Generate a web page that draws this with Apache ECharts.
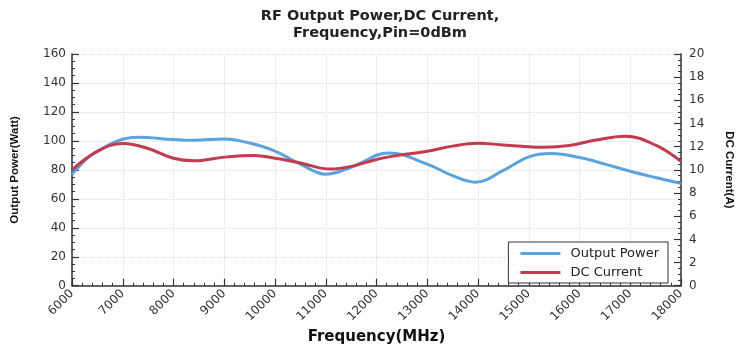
<!DOCTYPE html>
<html>
<head>
<meta charset="utf-8">
<script src="https://cdn.jsdelivr.net/npm/echarts@6/dist/echarts.min.js"></script>
<style>html,body{margin:0;padding:0;background:#fff;}#c{width:750px;height:350px;}</style>
</head>
<body>
<div id="c"></div>
<script>
const powerFreq = [6000,6500,7300,8000,8400,9000,9500,10000,10500,11000,11500,12250,13000,13500,13950,14500,15000,15450,16000,16500,17000,17500,18000];
const outputPower = [77,93,102.5,101,100.5,101.3,98.5,93,84,77,81.8,91.6,84,76,71.5,79.6,89,91.3,88.5,84,79,74.7,70.7];
const currentFreq = [6000,6500,7000,7500,8000,8400,9000,9600,10000,10500,11100,11500,12000,12500,13000,13500,14000,14500,15300,15800,16300,16900,17500,18000];
const dcCurrent = [10.0,11.6,12.27,11.85,11.0,10.78,11.1,11.25,11.0,10.6,10.07,10.3,10.9,11.3,11.6,12.05,12.3,12.15,11.95,12.1,12.55,12.9,12.13,10.73];
const titleLines = ['RF Output Power,DC Current,','Frequency,Pin=0dBm'];

const chart = echarts.init(document.getElementById('c'), null, {renderer:'canvas'});
const axisCol = '#333';
const tickLbl = {color:'#333', fontFamily:'DejaVu Sans', fontSize:12};
chart.setOption({
  animation:false,
  backgroundColor:'#fff',
  title:{text:titleLines.join('\n'), left:375, top:3, textAlign:'center',
    textStyle:{fontFamily:'DejaVu Sans', fontWeight:'bold', fontSize:14.5, color:'#222', lineHeight:17}},
  grid:{left:72, right:69, top:54, bottom:58},
  legend:{orient:'vertical', right:82, bottom:67, itemWidth:40, itemHeight:3, itemGap:6,
    padding:[5,9,4,12], borderColor:'#333', borderWidth:1, backgroundColor:'#fff',
    icon:'rect',
    textStyle:{fontFamily:'DejaVu Sans', fontSize:13, color:'#222', padding:[0,0,0,5]},
    data:['Output Power','DC Current']},
  xAxis:{type:'value', min:6000, max:18000, interval:1000,
    name:'Frequency(MHz)', nameLocation:'middle', nameGap:39,
    nameTextStyle:{fontFamily:'DejaVu Sans', fontWeight:'bold', fontSize:15, color:'#111'},
    axisLine:{lineStyle:{color:axisCol, width:1.5}},
    axisTick:{inside:true, length:7, lineStyle:{color:axisCol, width:1.2}},
    minorTick:{show:true, splitNumber:5, length:3, lineStyle:{color:axisCol}},
    axisLabel:Object.assign({rotate:45, margin:6, formatter:v=>String(v)}, tickLbl),
    splitLine:{show:true, lineStyle:{color:'#ddd', type:'dotted'}}},
  yAxis:[
    {type:'value', min:0, max:160, interval:20,
      name:'Output Power(Watt)', nameLocation:'middle', nameGap:51,
      nameTextStyle:{fontFamily:'Liberation Sans Narrow, Liberation Sans', fontWeight:'bold', fontSize:11.5, color:'#111'},
      axisLine:{show:true, lineStyle:{color:axisCol, width:1.5}},
      axisTick:{show:true, inside:true, length:7, lineStyle:{color:axisCol, width:1.2}},
      minorTick:{show:true, splitNumber:4, length:3, lineStyle:{color:axisCol}},
      axisLabel:Object.assign({margin:6}, tickLbl),
      splitLine:{show:true, lineStyle:{color:'#ddd', type:'dotted'}}},
    {type:'value', min:0, max:20, interval:2, position:'right',
      name:'DC Current(A)', nameLocation:'middle', nameGap:42, nameRotate:-90,
      nameTextStyle:{fontFamily:'Liberation Sans Narrow, Liberation Sans', fontWeight:'bold', fontSize:11.5, color:'#111'},
      axisLine:{show:true, lineStyle:{color:axisCol, width:1.5}},
      axisTick:{show:true, inside:true, length:7, lineStyle:{color:axisCol, width:1.2}},
      minorTick:{show:true, splitNumber:4, length:3, lineStyle:{color:axisCol}},
      axisLabel:Object.assign({margin:8}, tickLbl),
      splitLine:{show:false}}
  ],
  series:[
    {name:'Output Power', type:'line', yAxisIndex:0, smooth:0.4, showSymbol:false,
      data:powerFreq.map((f,i)=>[f,outputPower[i]]),
      lineStyle:{color:'#5ba3de', width:3}, itemStyle:{color:'#5ba3de'}},
    {name:'DC Current', type:'line', yAxisIndex:1, smooth:0.4, showSymbol:false,
      data:currentFreq.map((f,i)=>[f,dcCurrent[i]]),
      lineStyle:{color:'#c23b4e', width:3}, itemStyle:{color:'#c23b4e'}}
  ]
});
</script>
</body>
</html>
